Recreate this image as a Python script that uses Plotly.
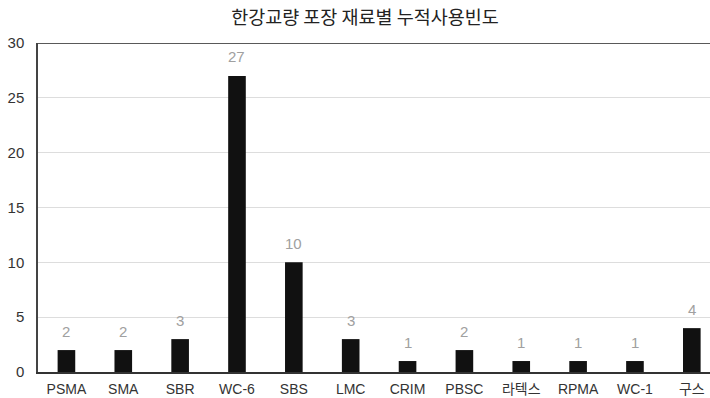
import plotly.graph_objects as go

categories = ["PSMA", "SMA", "SBR", "WC-6", "SBS", "LMC", "CRIM", "PBSC", "라텍스", "RPMA", "WC-1", "구스"]
values = [2, 2, 3, 27, 10, 3, 1, 2, 1, 1, 1, 4]
y_ticks = [0, 5, 10, 15, 20, 25, 30]
title_text = "한강교량 포장 재료별 누적사용빈도"

FONT = "Liberation Sans, Noto Sans CJK KR, sans-serif"
KFONT = "Noto Sans CJK KR, sans-serif"

fig = go.Figure()
fig.add_trace(go.Bar(
    x=list(range(len(categories))),
    y=values,
    width=0.31,
    marker=dict(color="#111111", line=dict(width=0)),
    hoverinfo="skip",
))

for i, v in enumerate(values):
    fig.add_annotation(
        x=i, y=v, text=str(v), showarrow=False,
        yshift=19,
        font=dict(family=FONT, size=15, color="#a0a0a0"),
    )

fig.add_shape(type="line", xref="paper", yref="y", x0=0, x1=1, y0=30, y1=30,
              line=dict(color="#222222", width=1.5), layer="above")

fig.update_layout(
    width=710, height=398,
    margin=dict(l=37.5, r=0, t=42.7, b=26.3),
    plot_bgcolor="white", paper_bgcolor="white",
    showlegend=False,
    title=dict(text=title_text, x=365/710, xanchor="center", y=1 - 18/398, yanchor="middle",
               font=dict(family=KFONT, size=18.5, color="#222222")),
    xaxis=dict(
        range=[-0.5, 11.32],
        tickmode="array", tickvals=list(range(len(categories))), ticktext=categories,
        showline=True, linecolor="#333333", linewidth=1.5,
        showgrid=False, zeroline=False,
        ticks="outside", ticklen=3, tickcolor="rgba(0,0,0,0)",
        tickfont=dict(family=FONT, size=14, color="#333333"),
    ),
    yaxis=dict(
        range=[0, 30],
        tickmode="array", tickvals=y_ticks,
        showline=True, linecolor="#444444", linewidth=1.5,
        showgrid=True, gridcolor="#dddddd", gridwidth=1,
        zeroline=False,
        ticks="outside", ticklen=9, tickcolor="rgba(0,0,0,0)",
        tickfont=dict(family=FONT, size=15, color="#333333"),
    ),
)

fig.write_html("out.html")
